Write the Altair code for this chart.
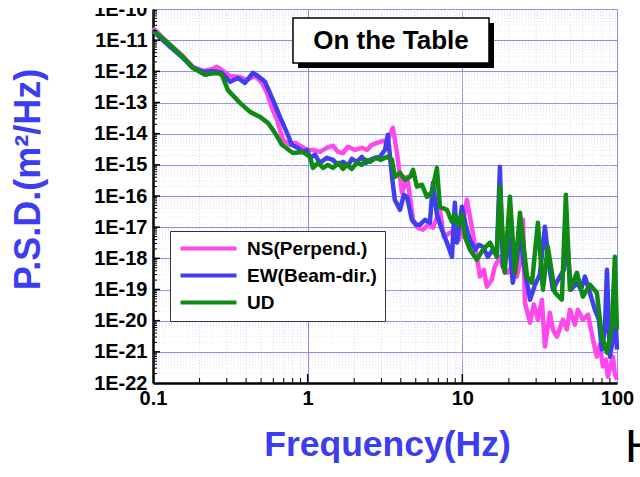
import altair as alt
import pandas as pd

# ---------------- data ----------------
ns_freq = [0.1, 0.129, 0.156, 0.181, 0.211, 0.244, 0.259, 0.279, 0.315, 0.365,
           0.405, 0.456, 0.507, 0.546, 0.588, 0.633, 0.692, 0.769, 0.828, 0.892,
           0.99, 1.082, 1.20, 1.33, 1.457, 1.57, 1.69, 1.82, 2.02, 2.24,
           2.42, 2.60, 2.81, 3.07, 3.26, 3.56, 3.78, 3.95, 4.07, 4.39,
           4.59, 4.80, 5.16, 5.56, 5.99, 6.46, 7.16, 7.60, 8.31, 8.95,
           9.51, 10.1, 10.7, 11.2, 11.7, 12.4, 13.0, 13.8, 14.4, 15.5,
           16.2, 17.5, 18.6, 19.7, 21.2, 22.5, 23.9, 24.7, 25.4, 27.4,
           29.0, 30.8, 32.7, 34.2, 36.8, 38.5, 40.9, 44.7, 47.4, 49.6,
           53.5, 55.8, 60.2, 64.9, 69.9, 74.1, 77.5, 81.1, 84.8, 87.3,
           91.3, 94.1, 96.9, 99.9]
ns_psd = [2.5e-11, 7.0e-12, 3.1e-12, 1.4e-12, 1.03e-12, 1.2e-12, 1.4e-12, 1.1e-12, 7.1e-13, 6.6e-13,
          5.3e-13, 7.1e-13, 4.25e-13, 2.0e-13, 6.7e-14, 2.8e-14, 6.3e-15, 4.4e-15, 5.1e-15, 4.1e-15,
          3.0e-15, 3.0e-15, 2.6e-15, 3.5e-15, 4.1e-15, 2.6e-15, 2.4e-15, 3.8e-15, 3.0e-15, 3.5e-15,
          3.0e-15, 4.4e-15, 5.1e-15, 5.9e-15, 5.5e-15, 1.53e-14, 2.4e-15, 4.1e-16, 1.27e-16, 4.1e-16,
          9.4e-17, 1.73e-17, 9.6e-18, 8.3e-18, 1.19e-17, 9.6e-18, 3.6e-17, 4.9e-18, 6.6e-18, 8.3e-18,
          3.9e-18, 1.38e-17, 7.6e-17, 2.15e-17, 6.6e-18, 1.12e-18, 2.6e-19, 4.3e-19, 1.23e-19, 2.06e-19,
          5.4e-19, 1.12e-18, 4.3e-19, 3.45e-19, 6.2e-19, 2.6e-19, 9.0e-19, 1.73e-17, 3.8e-20, 8.6e-21,
          3.3e-20, 1.08e-20, 4.7e-20, 1.47e-21, 1.8e-20, 5.2e-21, 3.1e-21, 1.08e-20, 5.2e-21, 2.25e-20,
          7.4e-21, 2.25e-20, 1.08e-20, 1.56e-20, 2.5e-21, 7.0e-22, 1.7e-21, 3.4e-22, 5.6e-22, 1.6e-22,
          3.9e-22, 7.0e-22, 1.86e-22, 1.29e-22]

ew_freq = [0.1, 0.129, 0.156, 0.181, 0.211, 0.244, 0.279, 0.315, 0.354, 0.393,
           0.443, 0.477, 0.530, 0.597, 0.662, 0.735, 0.791, 0.865, 0.933, 0.99,
           1.035, 1.115, 1.20, 1.33, 1.457, 1.57, 1.69, 1.82, 1.93, 2.08,
           2.24, 2.38, 2.53, 2.72, 2.93, 3.16, 3.30, 3.51, 3.66, 3.95,
           4.19, 4.39, 4.72, 5.01, 5.32, 5.73, 6.17, 6.46, 6.85, 7.38,
           7.95, 8.57, 8.95, 9.22, 9.94, 10.5, 11.2, 12.1, 12.8, 13.6,
           14.6, 15.8, 16.7, 17.5, 18.3, 19.7, 21.2, 22.5, 23.6, 25.0,
           27.4, 29.5, 31.7, 34.2, 36.3, 38.5, 42.7, 45.4, 47.4, 50.3,
           55.1, 58.5, 62.0, 66.8, 71.9, 76.4, 79.8, 83.5, 86.1, 89.9,
           94.1, 96.9, 99.9]
ew_psd = [1.97e-11, 6.1e-12, 2.7e-12, 1.29e-12, 9.6e-13, 1.03e-12, 8.9e-13, 4.6e-13, 6.1e-13, 4.25e-13,
          8.9e-13, 7.1e-13, 4.6e-13, 1.2e-13, 3.45e-14, 1.06e-14, 4.4e-15, 3.5e-15, 2.6e-15, 3.0e-15,
          1.68e-15, 2.1e-15, 1.16e-15, 1.68e-15, 1.45e-15, 1.0e-15, 1.25e-15, 9.3e-16, 1.56e-15, 1.25e-15,
          1.8e-15, 1.16e-15, 1.45e-15, 1.68e-15, 1.8e-15, 3.0e-15, 9.2e-15, 4.1e-16, 7.6e-17, 3.6e-17,
          1.09e-16, 9.4e-17, 1.73e-17, 1.19e-17, 1.19e-17, 1.73e-17, 1.38e-17, 2.65e-16, 2.5e-17, 8.3e-18,
          3.2e-18, 1.12e-18, 6.1e-17, 3.2e-18, 4.5e-17, 1.19e-17, 3.9e-18, 1.9e-18, 2.7e-18, 2.35e-18,
          1.12e-18, 1.9e-18, 1.3e-18, 8.6e-16, 5.4e-19, 8.3e-18, 1.65e-19, 9.0e-19, 8.3e-18, 6.2e-19,
          4.7e-20, 1.43e-19, 3.0e-19, 1.03e-17, 6.2e-19, 9.9e-20, 2.6e-19, 4.3e-19, 4.9e-18, 9.9e-20,
          1.65e-19, 9.9e-20, 2.6e-19, 7.9e-20, 2.25e-20, 1.08e-20, 1.18e-21, 5.2e-21, 4.3e-19, 7.0e-22,
          2.5e-21, 4.7e-20, 1.18e-21]

ud_freq = [0.1, 0.129, 0.156, 0.181, 0.217, 0.233, 0.259, 0.279, 0.305, 0.365,
           0.424, 0.492, 0.554, 0.615, 0.682, 0.803, 0.933, 1.035, 1.082, 1.166,
           1.26, 1.35, 1.457, 1.59, 1.69, 1.795, 1.93, 2.08, 2.24, 2.38,
           2.53, 2.76, 2.98, 3.26, 3.51, 3.66, 3.95, 4.26, 4.59, 4.80,
           5.09, 5.48, 5.90, 6.36, 6.85, 7.16, 7.95, 8.57, 8.95, 9.37,
           9.94, 10.4, 11.2, 12.4, 13.6, 15.1, 16.7, 17.5, 18.8, 20.3,
           21.9, 23.6, 26.2, 28.2, 30.8, 33.2, 35.7, 39.7, 44.0, 46.7,
           49.6, 55.1, 60.2, 66.8, 74.1, 79.8, 86.1, 92.7, 96.9, 99.9]
ud_psd = [2.1e-11, 7.0e-12, 2.9e-12, 1.29e-12, 7.7e-13, 8.3e-13, 8.9e-13, 7.7e-13, 2.5e-13, 9.7e-14,
          5.0e-14, 3.45e-14, 2.2e-14, 1.06e-14, 4.4e-15, 2.4e-15, 2.6e-15, 1.8e-15, 8.0e-16, 1.16e-15,
          8.0e-16, 1.0e-15, 8.0e-16, 1.16e-15, 7.4e-16, 1.0e-15, 7.4e-16, 1.16e-15, 1.0e-15, 1.45e-15,
          1.25e-15, 1.68e-15, 1.45e-15, 1.8e-15, 1.45e-15, 4.1e-16, 5.5e-16, 3.3e-16, 4.1e-16, 6.9e-16,
          2.0e-16, 2.3e-16, 9.4e-17, 1.36e-16, 8.0e-16, 4.5e-17, 3.6e-17, 1.49e-17, 2.5e-17, 1.19e-17,
          2.5e-17, 4.9e-18, 1.9e-18, 9.0e-19, 1.9e-18, 3.2e-18, 1.12e-18, 2.0e-16, 3.45e-19, 9.4e-17,
          3.45e-19, 2.9e-17, 2.6e-19, 1.65e-19, 1.38e-17, 9.9e-20, 2.35e-18, 7.9e-20, 4.7e-20, 1.09e-16,
          9.9e-20, 3.45e-19, 5.9e-20, 1.43e-19, 7.9e-20, 3.1e-21, 9.4e-22, 6.4e-21, 1.12e-18, 5.2e-21]

series_names = ["NS(Perpend.)", "EW(Beam-dir.)", "UD"]
series_colors = ["#ff48ec", "#3f3ff0", "#0f8a12"]

x_major = [0.1, 1, 10, 100]
y_major = [1e-22, 1e-21, 1e-20, 1e-19, 1e-18, 1e-17, 1e-16, 1e-15,
           1e-14, 1e-13, 1e-12, 1e-11, 1e-10]
minor_mult = [2, 3, 4, 5, 6, 7, 8, 9]
x_decades = [0.1, 1, 10]
y_decades = [1e-22, 1e-21, 1e-20, 1e-19, 1e-18, 1e-17, 1e-16, 1e-15,
             1e-14, 1e-13, 1e-12, 1e-11]

title_text = "On the Table"
x_title = "Frequency(Hz)"
y_title = "P.S.D.(m\u00b2/Hz)"

# ---------------- build tables ----------------
series_data = {
    series_names[0]: pd.DataFrame({"f": ns_freq, "psd": ns_psd, "series": series_names[0]}),
    series_names[1]: pd.DataFrame({"f": ew_freq, "psd": ew_psd, "series": series_names[1]}),
    series_names[2]: pd.DataFrame({"f": ud_freq, "psd": ud_psd, "series": series_names[2]}),
}
x_minor_df = pd.DataFrame({"f": [m * d for d in x_decades for m in minor_mult]})
y_minor_df = pd.DataFrame({"psd": [m * d for d in y_decades for m in minor_mult]})
x_major_df = pd.DataFrame({"f": x_major[1:-1]})
y_major_df = pd.DataFrame({"psd": y_major[1:-1]})
ann_df = pd.DataFrame({"label": [title_text]})
h_df = pd.DataFrame({"t": ["H"]})

# ---------------- layout / style ----------------
W, H = 464, 374
FONT = "Liberation Sans"
TITLE_BLUE = "#3c3cf0"
GRID_BLUE = "#8c8cf0"

xscale = alt.Scale(type="log", domain=[0.1, 100], nice=False)
yscale = alt.Scale(type="log", domain=[1e-22, 1e-10], nice=False)
color_scale = alt.Scale(domain=series_names, range=series_colors)

x_axis = alt.Axis(values=x_major, labelExpr="'' + datum.value", title=x_title,
                  ticks=False, grid=True, gridColor=GRID_BLUE, gridWidth=1,
                  domainColor="black", domainWidth=2.5,
                  labelFont=FONT, labelFontSize=20, labelFontWeight="bold",
                  labelColor="black", labelPadding=5, labelFlush=False, labelOverlap=False,
                  titleFont=FONT, titleFontSize=35.5, titleFontWeight="bold",
                  titleColor=TITLE_BLUE, titleX=W / 2 + 2, titleY=72,
                  titleAlign="center", titleBaseline="alphabetic")
y_axis = alt.Axis(values=y_major, labelExpr="'1E' + round(log(datum.value) / LN10)",
                  title=y_title, ticks=False, grid=True, gridColor=GRID_BLUE, gridWidth=1,
                  domainColor="black", domainWidth=2.5,
                  labelFont=FONT, labelFontSize=20, labelFontWeight="bold",
                  labelColor="black", labelPadding=6, labelOverlap=False,
                  titleFont=FONT, titleFontSize=36, titleFontWeight="bold",
                  titleColor=TITLE_BLUE, titleAngle=270, titleX=-125, titleY=170,
                  titleAlign="center", titleBaseline="middle")

legend = alt.Legend(title=None, orient="none", legendX=17, legendY=222,
                    symbolType="M-1,0H7", symbolSize=196, symbolStrokeWidth=4,
                    labelFont=FONT, labelFontSize=19, labelFontWeight="bold",
                    labelColor="black", labelOffset=50, rowPadding=7, padding=8,
                    fillColor="white", strokeColor="#333333")

X = alt.X("f:Q", scale=xscale, axis=x_axis)
Y = alt.Y("psd:Q", scale=yscale, axis=y_axis)

minor_grid_x = alt.Chart(x_minor_df).mark_rule(color="#cfcff0", strokeWidth=0.8, strokeDash=[1, 2]).encode(
    x=X, y=alt.value(0), y2=alt.value(H))
minor_grid_y = alt.Chart(y_minor_df).mark_rule(color="#dcdcf4", strokeWidth=0.8, strokeDash=[1, 2]).encode(
    y=Y, x=alt.value(0), x2=alt.value(W))


def series_layer(i):
    name = series_names[i]
    return alt.Chart(series_data[name]).mark_line(strokeWidth=4.5, strokeJoin="round").encode(
        x=X, y=Y,
        color=alt.Color("series:N", scale=color_scale, legend=legend),
    )


xt_minor = alt.Chart(x_minor_df).mark_rule(color="black", strokeWidth=1).encode(
    x=X, y=alt.value(H), y2=alt.value(H - 5))
xt_major = alt.Chart(x_major_df).mark_rule(color="black", strokeWidth=1.5).encode(
    x=X, y=alt.value(H), y2=alt.value(H - 9))
yt_minor = alt.Chart(y_minor_df).mark_rule(color="black", strokeWidth=1).encode(
    y=Y, x=alt.value(0), x2=alt.value(4))
yt_major = alt.Chart(y_major_df).mark_rule(color="black", strokeWidth=1.5).encode(
    y=Y, x=alt.value(0), x2=alt.value(7))

shadow = alt.Chart(ann_df).mark_rect(color="black").encode(
    x=alt.value(145), x2=alt.value(341), y=alt.value(14), y2=alt.value(59))
box = alt.Chart(ann_df).mark_rect(fill="white", stroke="black", strokeWidth=1.5).encode(
    x=alt.value(140), x2=alt.value(336), y=alt.value(9), y2=alt.value(54))
box_text = alt.Chart(ann_df).mark_text(font=FONT, fontSize=26, fontWeight="bold", color="black",
                                       align="center", baseline="middle").encode(
    x=alt.value(238), y=alt.value(32), text="label:N")
h_text = alt.Chart(h_df).mark_text(font=FONT, fontSize=47, color="black",
                                   align="left", baseline="alphabetic").encode(
    x=alt.value(472), y=alt.value(453), text="t:N")
cover = alt.Chart(h_df).mark_rect(color="white").encode(
    x=alt.value(-153), x2=alt.value(487), y=alt.value(-9), y2=alt.value(-1))

chart = alt.layer(
    minor_grid_x, minor_grid_y,
    series_layer(0), series_layer(1), series_layer(2),
    xt_minor, xt_major, yt_minor, yt_major,
    shadow, box, box_text, h_text, cover,
).properties(
    width=W, height=H,
    autosize=alt.AutoSizeParams(type="none"),
    padding={"left": 153, "top": 9, "right": 23, "bottom": 94},
    background="white",
).configure_view(strokeWidth=0)

chart.save("out.html", embed_options={"renderer": "svg", "actions": False})
